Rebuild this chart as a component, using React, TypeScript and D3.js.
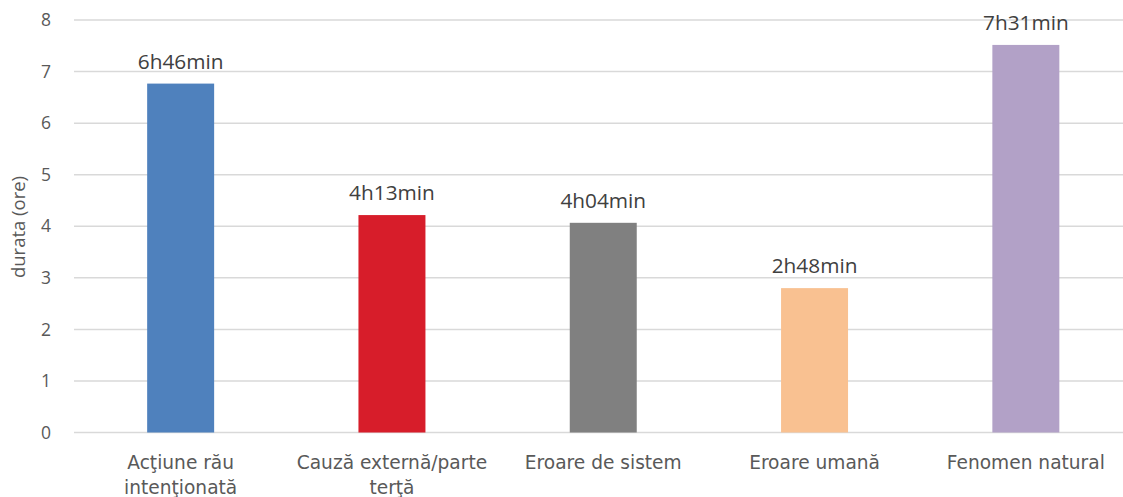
import React from "react";
import * as d3 from "d3";

// Average outage duration by cause, in hours
const categories: string[][] = [
  ["Acţiune rău", "intenţionată"],
  ["Cauză externă/parte", "terţă"],
  ["Eroare de sistem"],
  ["Eroare umană"],
  ["Fenomen natural"],
];
const durationLabels = ["6h46min", "4h13min", "4h04min", "2h48min", "7h31min"];
const durations = [6 + 46 / 60, 4 + 13 / 60, 4 + 4 / 60, 2 + 48 / 60, 7 + 31 / 60];
const barColors = ["#4F81BD", "#D71D2A", "#808080", "#F9C191", "#B2A1C7"];
const yTicks = [0, 1, 2, 3, 4, 5, 6, 7, 8];

const W = 1123;
const H = 497;

export default function App() {
  const x = d3
    .scaleBand<number>()
    .domain(d3.range(durations.length))
    .range([75, 1131.5])
    .paddingInner(0.683)
    .paddingOuter(0.3415);
  const y = d3.scaleLinear().domain([0, 8]).range([432.5, 20]);
  const labelFont = "'Open Sans', 'Noto Sans', sans-serif";
  const catFont = "'DejaVu Sans', Verdana, sans-serif";

  return (
    <svg
      width={W}
      height={H}
      style={{ position: "absolute", left: 0, top: 0, display: "block", background: "#fff" }}
    >
      {yTicks.map((t) => (
        <g key={t}>
          <line x1={74} x2={W} y1={y(t)} y2={y(t)} stroke="#D9D9D9" strokeWidth={1.5} />
          <text
            x={51}
            y={y(t)}
            dy="0.35em"
            textAnchor="end"
            fontFamily={labelFont}
            fontSize={17.5}
            fill="#595959"
          >
            {t}
          </text>
        </g>
      ))}
      <text
        transform={`translate(25,${227}) rotate(-90)`}
        textAnchor="middle"
        fontFamily={labelFont}
        fontSize={18.5}
        fill="#595959"
      >
        durata (ore)
      </text>
      {durations.map((d, i) => {
        const bx = x(i)!;
        const cx = bx + x.bandwidth() / 2;
        return (
          <g key={i}>
            <rect x={bx} y={y(d)} width={x.bandwidth()} height={y(0) - y(d)} fill={barColors[i]} />
            <text
              x={cx}
              y={y(d) - 15}
              textAnchor="middle"
              fontFamily={labelFont}
              fontSize={20.8}
              fill="#404040"
            >
              {durationLabels[i]}
            </text>
            {categories[i].map((line, j) => (
              <text
                key={j}
                x={cx}
                y={469 + j * 24.5}
                textAnchor="middle"
                fontFamily={catFont}
                fontSize={18.6}
                fill="#595959"
              >
                {line}
              </text>
            ))}
          </g>
        );
      })}
    </svg>
  );
}
